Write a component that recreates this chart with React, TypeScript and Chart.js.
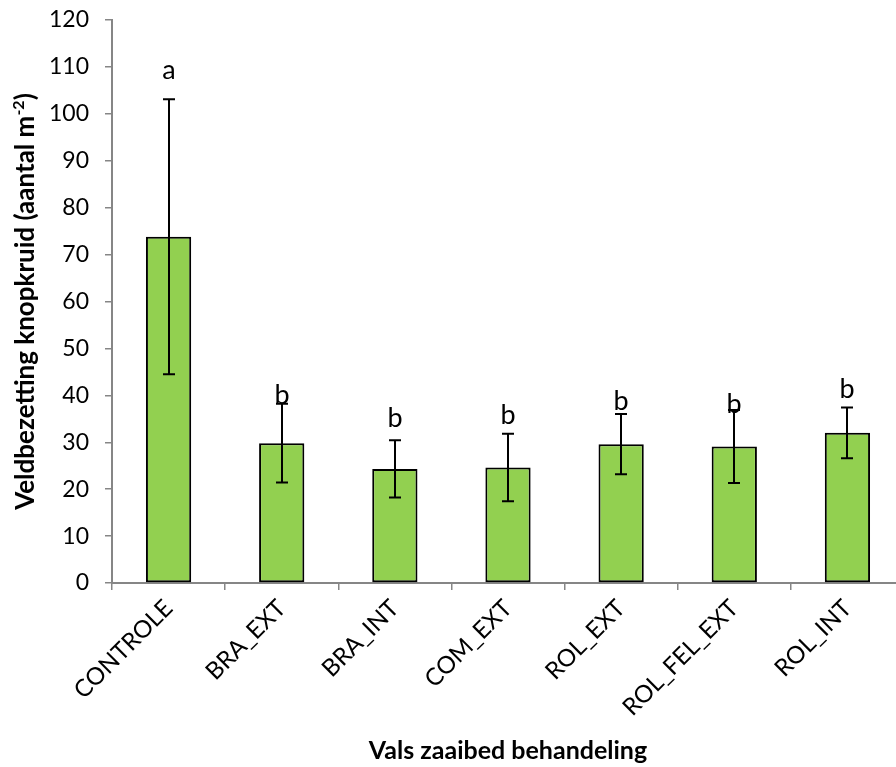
import { useEffect, useRef } from 'react';
import { Chart, registerables } from 'chart.js';

Chart.register(...registerables);

// Treatments on the x axis
const categories = ['CONTROLE', 'BRA_EXT', 'BRA_INT', 'COM_EXT', 'ROL_EXT', 'ROL_FEL_EXT', 'ROL_INT'];
// Mean field density (plants per m²) and its error margin
const means = [73.8, 29.8, 24.3, 24.6, 29.6, 29.1, 32.0];
const errors = [29.3, 8.4, 6.1, 7.2, 6.4, 7.8, 5.4];
// Significance letters and the axis value their baseline sits on
const letters = ['a', 'b', 'b', 'b', 'b', 'b', 'b'];
const letterLevels = [107.4, 38.2, 33.3, 33.9, 36.9, 36.3, 39.4];
// Value axis range
const yMin = 0;
const yMax = 120;
const yStep = 10;

const yTitleMain = 'Veldbezetting knopkruid (aantal m';
const yTitleSup = '-2';
const yTitleEnd = ')';
const xTitle = 'Vals zaaibed behandeling';

const FONT = 'Lato, "Open Sans", sans-serif';
const AXIS_GREY = '#868686';

const overlayPlugin = {
  id: 'overlay',
  afterDatasetsDraw(chart: any) {
    const ctx = chart.ctx as CanvasRenderingContext2D;
    const meta = chart.getDatasetMeta(0);
    const y = chart.scales.y;
    ctx.save();
    ctx.strokeStyle = '#000';
    ctx.lineWidth = 2;
    meta.data.forEach((bar: any, i: number) => {
      const x = Math.round(bar.x);
      const top = y.getPixelForValue(means[i] + errors[i]);
      const bot = y.getPixelForValue(means[i] - errors[i]);
      ctx.beginPath();
      ctx.moveTo(x, top);
      ctx.lineTo(x, bot);
      ctx.moveTo(x - 6, top);
      ctx.lineTo(x + 6, top);
      ctx.moveTo(x - 6, bot);
      ctx.lineTo(x + 6, bot);
      ctx.stroke();

      ctx.fillStyle = '#000';
      ctx.font = `27px ${FONT}`;
      ctx.textAlign = 'center';
      ctx.textBaseline = 'alphabetic';
      ctx.fillText(letters[i], x, y.getPixelForValue(letterLevels[i]));
    });
    ctx.restore();
  },
  afterDraw(chart: any) {
    const ctx = chart.ctx as CanvasRenderingContext2D;
    const area = chart.chartArea;
    ctx.save();
    ctx.fillStyle = '#000';

    // x axis title
    ctx.font = `bold 25px ${FONT}`;
    ctx.textAlign = 'center';
    ctx.textBaseline = 'alphabetic';
    ctx.fillText(xTitle, (area.left + area.right) / 2, 759);

    // y axis title, rotated, with superscript exponent
    const mainFont = `bold 26px ${FONT}`;
    const supFont = `bold 16px ${FONT}`;
    ctx.font = mainFont;
    const w1 = ctx.measureText(yTitleMain).width;
    const w3 = ctx.measureText(yTitleEnd).width;
    ctx.font = supFont;
    const w2 = ctx.measureText(yTitleSup).width;
    const total = w1 + w2 + w3;
    ctx.translate(34, (area.top + area.bottom) / 2);
    ctx.rotate(-Math.PI / 2);
    ctx.textAlign = 'left';
    let x0 = -total / 2;
    ctx.font = mainFont;
    ctx.fillText(yTitleMain, x0, 0);
    x0 += w1;
    ctx.font = supFont;
    ctx.fillText(yTitleSup, x0, -10);
    x0 += w2;
    ctx.font = mainFont;
    ctx.fillText(yTitleEnd, x0, 0);
    ctx.restore();
  },
};

export default function App() {
  const canvasRef = useRef<HTMLCanvasElement | null>(null);

  useEffect(() => {
    const canvas = canvasRef.current;
    if (!canvas) return;
    const chart = new Chart(canvas, {
      type: 'bar',
      data: {
        labels: categories,
        datasets: [
          {
            data: means,
            backgroundColor: '#92D050',
            borderColor: '#000',
            borderWidth: 2,
            borderSkipped: false,
            barPercentage: 0.4,
            categoryPercentage: 1,
          },
        ],
      },
      options: {
        responsive: false,
        animation: false,
        devicePixelRatio: 1,
        layout: { padding: { top: 20, right: 16, left: 0, bottom: 0 } },
        plugins: { legend: { display: false }, tooltip: { enabled: false } },
        scales: {
          x: {
            afterFit(scale: any) {
              scale.height = 184;
              scale.paddingLeft = 0;
              scale.paddingRight = 0;
            },
            grid: {
              drawOnChartArea: false,
              drawTicks: true,
              tickLength: 7,
              color: AXIS_GREY,
              lineWidth: 1.5,
              offset: true,
            },
            border: { color: AXIS_GREY, width: 2 },
            ticks: {
              autoSkip: false,
              maxRotation: 45,
              minRotation: 45,
              padding: 4,
              color: '#000',
              font: { family: FONT, size: 24 },
            },
          },
          y: {
            min: yMin,
            max: yMax,
            afterFit(scale: any) {
              scale.width = 112;
              scale.paddingTop = 0;
              scale.paddingBottom = 0;
            },
            grid: {
              drawOnChartArea: false,
              drawTicks: true,
              tickLength: 7,
              color: AXIS_GREY,
              lineWidth: 1.5,
            },
            border: { color: AXIS_GREY, width: 2 },
            ticks: {
              stepSize: yStep,
              padding: 16,
              color: '#000',
              font: { family: FONT, size: 23 },
            },
          },
        },
      },
      plugins: [overlayPlugin],
    });
    return () => chart.destroy();
  }, []);

  return (
    <div
      style={{
        position: 'fixed',
        left: 0,
        top: 0,
        width: 896,
        height: 767,
        overflow: 'hidden',
        background: '#fff',
      }}
    >
      <canvas ref={canvasRef} width={920} height={767} style={{ display: 'block' }} />
    </div>
  );
}
